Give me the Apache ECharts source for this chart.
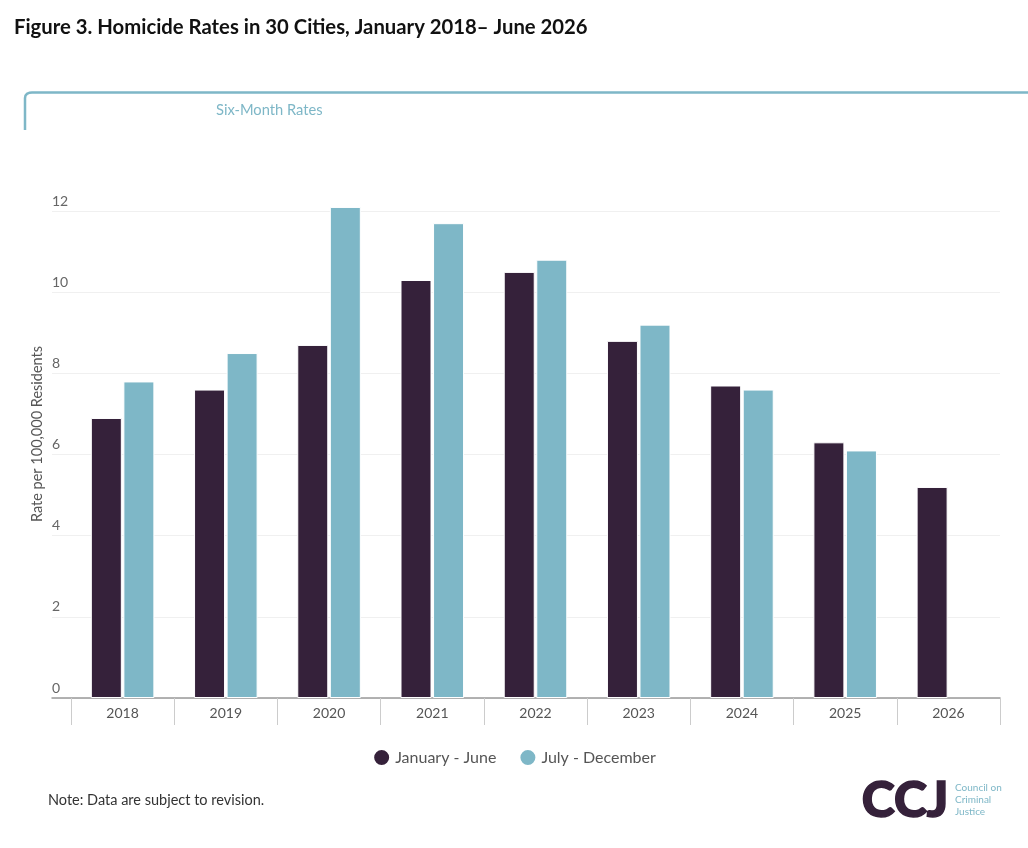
<!DOCTYPE html>
<html style="height: 100%">
<head>
<meta charset="utf-8">
<script src="https://cdn.jsdelivr.net/npm/echarts@6/dist/echarts.min.js"></script>
</head>
<body style="height: 100%; margin: 0; background: #fff">
<div id="container" style="width: 1028px; height: 848px"></div>
<script type="text/javascript">
var years = ['2018', '2019', '2020', '2021', '2022', '2023', '2024', '2025', '2026'];
var janJune = [6.9, 7.6, 8.7, 10.3, 10.5, 8.8, 7.7, 6.3, 5.2];
var julDec = [7.8, 8.5, 12.1, 11.7, 10.8, 9.2, 7.6, 6.1, '-'];
var yTicks = [0, 2, 4, 6, 8, 10, 12];

var dark = '#35213a';
var teal = '#7eb7c7';
var font = 'Lato, "Open Sans", sans-serif';

var myChart = echarts.init(document.getElementById('container'));

var option = {
    backgroundColor: '#fff',
    animation: false,
    textStyle: { fontFamily: font },
    title: {
        text: 'Figure 3. Homicide Rates in 30 Cities, January 2018\u2013 June 2026',
        left: 9,
        top: 12,
        textStyle: { fontFamily: font, fontSize: 20.3, fontWeight: 'bold', color: '#111' }
    },
    legend: {
        bottom: 76,
        left: 'center',
        icon: 'circle',
        itemWidth: 17,
        itemHeight: 17,
        itemGap: 22,
        textStyle: { fontFamily: font, fontSize: 16, color: '#555' },
        data: ['January - June', 'July - December']
    },
    grid: [
        { left: 71, right: 28, top: 211, bottom: 150 },
        { left: 52, right: 28, top: 211, bottom: 150 }
    ],
    xAxis: [
        {
            type: 'category',
            gridIndex: 0,
            data: years,
            axisLine: { show: false },
            axisTick: { show: true, interval: 0, length: 27, lineStyle: { color: '#ccc' } },
            axisLabel: { interval: 0, margin: 8, fontSize: 14, color: '#555', fontFamily: font }
        },
        {
            type: 'value',
            gridIndex: 1,
            min: 0,
            max: 1,
            axisLine: { show: true, lineStyle: { color: '#999', width: 1.5 } },
            axisTick: { show: false },
            axisLabel: { show: false },
            splitLine: { show: false }
        }
    ],
    yAxis: [
        {
            type: 'value',
            gridIndex: 0,
            min: 0,
            max: 12,
            interval: 2,
            axisLine: { show: false },
            axisTick: { show: false },
            axisLabel: { show: false },
            splitLine: { show: false }
        },
        {
            type: 'value',
            gridIndex: 1,
            min: yTicks[0],
            max: yTicks[yTicks.length - 1],
            interval: 2,
            axisLine: { show: false },
            axisTick: { show: false },
            axisLabel: {
                inside: true,
                margin: 0,
                verticalAlign: 'bottom',
                padding: [0, 0, 3, 0],
                fontSize: 14,
                color: '#666',
                fontFamily: font
            },
            splitLine: { show: true, lineStyle: { color: '#f0f0f0' } }
        }
    ],
    series: [
        {
            name: 'January - June',
            type: 'bar',
            xAxisIndex: 0,
            yAxisIndex: 0,
            data: janJune,
            barWidth: 31,
            barGap: '5%',
            clip: false,
            itemStyle: { color: dark, borderColor: '#fff', borderWidth: 1 }
        },
        {
            name: 'July - December',
            type: 'bar',
            xAxisIndex: 0,
            yAxisIndex: 0,
            data: julDec,
            barWidth: 31,
            barGap: '5%',
            clip: false,
            itemStyle: { color: teal, borderColor: '#fff', borderWidth: 1 }
        }
    ],
    graphic: [
        {
            type: 'polyline',
            shape: { points: [[25, 130], [25, 98], [25.5, 95.5], [27, 93.8], [29.5, 92.7], [32, 92.5], [1028, 92.5]] },
            style: { fill: null, stroke: teal, lineWidth: 2.5 }
        },
        {
            type: 'text',
            left: 216,
            top: 103,
            style: { text: 'Six-Month Rates', fill: teal, fontSize: 14.7, fontFamily: font }
        },
        {
            type: 'text',
            x: 37,
            y: 434,
            rotation: Math.PI / 2,
            style: {
                text: 'Rate per 100,000 Residents',
                fill: '#555',
                fontSize: 14.5,
                fontFamily: font,
                align: 'center',
                verticalAlign: 'middle'
            }
        },
        {
            type: 'text',
            left: 48,
            top: 793,
            style: { text: 'Note: Data are subject to revision.', fill: '#333', fontSize: 14.5, fontFamily: font }
        },
        {
            type: 'text',
            left: 861,
            top: 775,
            style: { text: 'CCJ', fill: dark, fontSize: 50, fontWeight: 900, fontFamily: font, stroke: dark, lineWidth: 1.5 }
        },
        {
            type: 'text',
            left: 955,
            top: 782,
            style: { text: 'Council on\nCriminal\nJustice', fill: teal, fontSize: 10, lineHeight: 12, fontFamily: font }
        }
    ]
};

myChart.setOption(option, true);
</script>
</body>
</html>
